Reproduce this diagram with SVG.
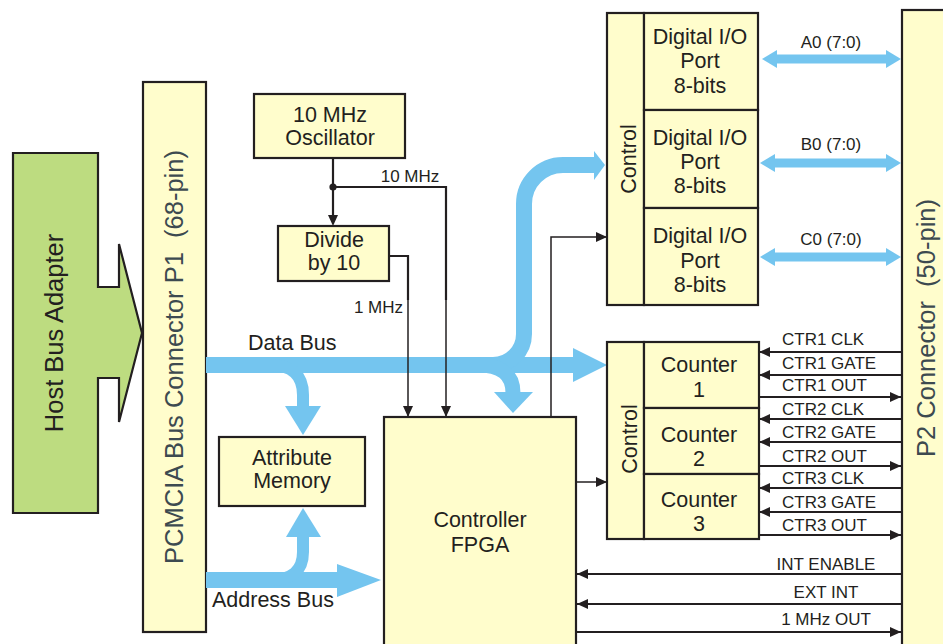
<svg xmlns="http://www.w3.org/2000/svg" width="943" height="644" viewBox="0 0 943 644">
<defs>
<style>
.box{fill:#fffdcc;stroke:#231f20;stroke-width:2.2}
.t{font-family:"Liberation Sans",Arial,sans-serif;font-size:21.5px;fill:#231f20;text-anchor:middle}
.tl{font-family:"Liberation Sans",Arial,sans-serif;font-size:21.5px;fill:#231f20;text-anchor:start}
.s{font-family:"Liberation Sans",Arial,sans-serif;font-size:17px;fill:#231f20}
.v{font-family:"Liberation Sans",Arial,sans-serif;font-size:25.5px;fill:#3d4a50;text-anchor:middle}
.bus{fill:none;stroke:#74c5ef}
.bh{fill:#74c5ef}
.ln{fill:none;stroke:#231f20;stroke-width:2.2}
.thin{fill:none;stroke:#231f20;stroke-width:1.5}
</style>
<marker id="a" markerUnits="userSpaceOnUse" markerWidth="11" markerHeight="10" refX="11" refY="5" orient="auto" viewBox="0 0 11 10">
<path d="M0,0 L11,5 L0,10 z" fill="#231f20"/>
</marker>
</defs>

<g id="host-bus-adapter">
<polygon points="13,153 98,153 98,287 119,287 119,244 142,333 119,422 119,378 98,378 98,513 13,513" fill="#bddc80" stroke="#231f20" stroke-width="2.2"/>
<text class="t" style="font-size:25.5px" transform="translate(63,333) rotate(-90)">Host Bus Adapter</text>
</g>

<g id="pcmcia-connector">
<rect class="box" x="143" y="82" width="63" height="550"/>
<text class="v" transform="translate(183,357) rotate(-90)" xml:space="preserve">PCMCIA Bus Connector P1  (68-pin)</text>
</g>

<g id="p2-connector">
<rect class="box" x="902" y="10" width="60" height="660"/>
<text class="v" transform="translate(935,328) rotate(-90)" xml:space="preserve">P2 Connector  (50-pin)</text>
</g>

<g id="connectors">
<path class="bus" stroke-width="16" d="M206,365 L573,365"/>
<polygon class="bh" points="573,348 573,382 607,365"/>
<path class="bus" stroke-width="16" d="M470,365 L493,365 A31,31 0 0 0 524,334 L524,204 A39,39 0 0 1 563,165 L595,165"/>
<polygon class="bh" points="594,151 594,180 605,165"/>
<path class="bus" stroke-width="15" d="M478,365 Q513,365 513,393"/>
<polygon class="bh" points="494,392 533,392 513,413"/>
<path class="bus" stroke-width="12" d="M270,365 Q303,365 303,395 L303,407"/>
<polygon class="bh" points="285,406 321,406 303,435"/>
<path class="bus" stroke-width="16" d="M206,580 L337,580"/>
<polygon class="bh" points="337,564 337,597 381,580"/>
<path class="bus" stroke-width="12" d="M270,580 Q303,580 303,552 L303,536"/>
<polygon class="bh" points="286,537 321,537 303,508"/>
<g>
<path class="bus" stroke-width="9" d="M776,59 L888,59"/>
<polygon class="bh" points="762,59 777,50 777,68"/>
<polygon class="bh" points="901,59 886,50 886,68"/>
<path class="bus" stroke-width="9" d="M774,163 L888,163"/>
<polygon class="bh" points="760,163 775,154 775,172"/>
<polygon class="bh" points="901,163 886,154 886,172"/>
<path class="bus" stroke-width="9" d="M774,257 L888,257"/>
<polygon class="bh" points="760,257 775,248 775,266"/>
<polygon class="bh" points="901,257 886,248 886,266"/>
</g>
<path class="ln" d="M333,158 L333,216"/>
<polygon points="328,215 338,215 333,226" fill="#231f20"/>
<circle cx="333" cy="187" r="3.6" fill="#231f20"/>
<path class="ln" d="M333,187 L446,187 L446,300"/>
<path class="thin" d="M446,298 L446,417" marker-end="url(#a)"/>
<path class="ln" d="M389,256 L408,256 L408,300"/>
<path class="thin" d="M408,298 L408,417" marker-end="url(#a)"/>
<path class="thin" d="M551,417 L551,237 L607,237" marker-end="url(#a)"/>
<path class="thin" d="M576,482 L607,482" marker-end="url(#a)"/>
<path class="ln" d="M902,352 L759,352" marker-end="url(#a)"/>
<path class="ln" d="M902,375 L759,375" marker-end="url(#a)"/>
<path class="ln" d="M759,397 L901,397" marker-end="url(#a)"/>
<path class="ln" d="M902,419 L759,419" marker-end="url(#a)"/>
<path class="ln" d="M902,442 L759,442" marker-end="url(#a)"/>
<path class="ln" d="M759,466 L901,466" marker-end="url(#a)"/>
<path class="ln" d="M902,488 L759,488" marker-end="url(#a)"/>
<path class="ln" d="M902,512 L759,512" marker-end="url(#a)"/>
<path class="ln" d="M759,535 L901,535" marker-end="url(#a)"/>
<path class="ln" d="M902,574 L577,574" marker-end="url(#a)"/>
<path class="ln" d="M902,604 L577,604" marker-end="url(#a)"/>
<path class="ln" d="M576,632 L901,632" marker-end="url(#a)"/>
<text class="s" x="410" y="182" text-anchor="middle">10 MHz</text>
<text class="s" x="403" y="313" text-anchor="end">1 MHz</text>
<text class="tl" x="248" y="350">Data Bus</text>
<text class="tl" x="212" y="607">Address Bus</text>
<text class="s" x="831" y="48" text-anchor="middle">A0 (7:0)</text>
<text class="s" x="831" y="150" text-anchor="middle">B0 (7:0)</text>
<text class="s" x="831" y="245" text-anchor="middle">C0 (7:0)</text>
<text class="s" x="782" y="345">CTR1 CLK</text>
<text class="s" x="782" y="369">CTR1 GATE</text>
<text class="s" x="782" y="391">CTR1 OUT</text>
<text class="s" x="782" y="415">CTR2 CLK</text>
<text class="s" x="782" y="438">CTR2 GATE</text>
<text class="s" x="782" y="462">CTR2 OUT</text>
<text class="s" x="782" y="484">CTR3 CLK</text>
<text class="s" x="782" y="508">CTR3 GATE</text>
<text class="s" x="782" y="531">CTR3 OUT</text>
<text class="s" x="826" y="570" text-anchor="middle">INT ENABLE</text>
<text class="s" x="826" y="598" text-anchor="middle">EXT INT</text>
<text class="s" x="826" y="625" text-anchor="middle">1 MHz OUT</text>
</g>

<g id="oscillator">
<rect class="box" x="254" y="94" width="151" height="64"/>
<text class="t" x="330" y="122">10 MHz</text>
<text class="t" x="330" y="145">Oscillator</text>
</g>

<g id="divider">
<rect class="box" x="278" y="226" width="111" height="55"/>
<text class="t" x="334" y="247">Divide</text>
<text class="t" x="334" y="270">by 10</text>
</g>

<g id="attribute-memory">
<rect class="box" x="219" y="437" width="146" height="69"/>
<text class="t" x="292" y="465">Attribute</text>
<text class="t" x="292" y="488">Memory</text>
</g>

<g id="controller-fpga">
<rect class="box" x="384" y="417" width="192" height="240"/>
<text class="t" x="480" y="527">Controller</text>
<text class="t" x="480" y="552">FPGA</text>
</g>

<g id="dio-control">
<rect class="box" x="607" y="13" width="37" height="292"/>
<text class="t" transform="translate(636,159) rotate(-90)">Control</text>
</g>
<g id="dio-a">
<rect class="box" x="644" y="13" width="114" height="97"/>
<text class="t" x="700" y="44">Digital I/O</text>
<text class="t" x="700" y="68">Port</text>
<text class="t" x="700" y="93">8-bits</text>
</g>
<g id="dio-b">
<rect class="box" x="644" y="110" width="114" height="98"/>
<text class="t" x="700" y="145">Digital I/O</text>
<text class="t" x="700" y="169">Port</text>
<text class="t" x="700" y="193">8-bits</text>
</g>
<g id="dio-c">
<rect class="box" x="644" y="208" width="114" height="97"/>
<text class="t" x="700" y="243">Digital I/O</text>
<text class="t" x="700" y="268">Port</text>
<text class="t" x="700" y="292">8-bits</text>
</g>

<g id="counter-control">
<rect class="box" x="607" y="342" width="37" height="197"/>
<text class="t" transform="translate(637,439) rotate(-90)">Control</text>
</g>
<g id="counter-1">
<rect class="box" x="644" y="342" width="115" height="66"/>
<text class="t" x="699" y="372">Counter</text>
<text class="t" x="699" y="397">1</text>
</g>
<g id="counter-2">
<rect class="box" x="644" y="408" width="115" height="66"/>
<text class="t" x="699" y="442">Counter</text>
<text class="t" x="699" y="466">2</text>
</g>
<g id="counter-3">
<rect class="box" x="644" y="474" width="115" height="65"/>
<text class="t" x="699" y="507">Counter</text>
<text class="t" x="699" y="531">3</text>
</g>
</svg>
